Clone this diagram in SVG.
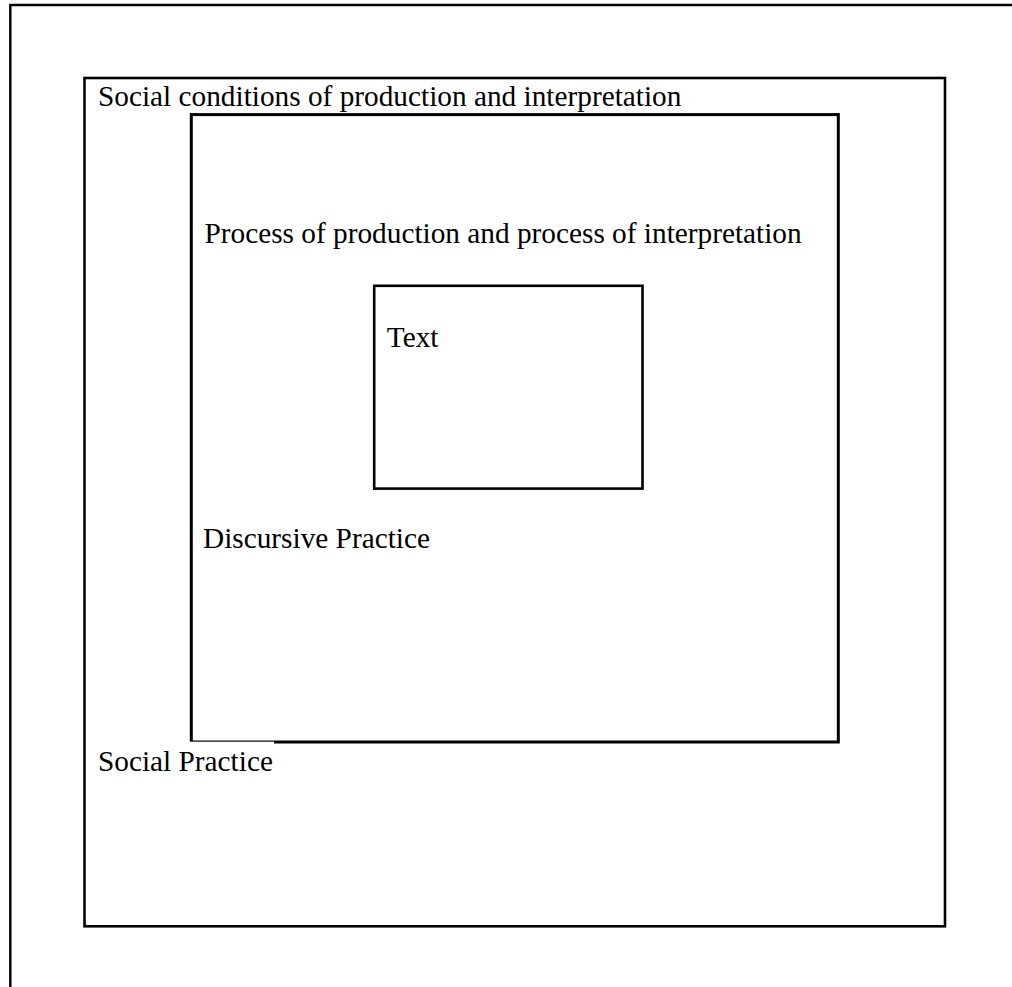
<svg xmlns="http://www.w3.org/2000/svg" width="1012" height="987" viewBox="0 0 1012 987">
  <style>
    .box { fill: none; stroke: #000; stroke-width: 2.6; }
    .frame { fill: none; stroke: #000; stroke-width: 2.4; }
    .lbl { font-family: "Liberation Serif", "Times New Roman", serif; font-size: 29.3px; fill: #000; }
  </style>
  <rect x="0" y="0" width="1012" height="987" fill="#fff"/>
  <g id="page-frame">
    <path class="frame" d="M10.3,987 L10.3,5 L1012,5"/>
  </g>
  <g id="social-practice">
    <rect class="box" x="84.5" y="78" width="860.5" height="848.3"/>
    <text class="lbl" x="98" y="106">Social conditions of production and interpretation</text>
  </g>
  <g id="discursive-practice">
    <rect class="box" x="191.3" y="114.6" width="647" height="627.4" style="stroke-width:3"/>
    <text class="lbl" x="204.5" y="243">Process of production and process of interpretation</text>
    <text class="lbl" x="203" y="548">Discursive Practice</text>
  </g>
  <g id="social-practice-label">
    <rect x="88" y="741.7" width="186" height="40" fill="#fff"/>
    <text class="lbl" x="98" y="770.5">Social Practice</text>
  </g>
  <g id="text-node">
    <rect class="box" x="374.2" y="285.8" width="268.3" height="202.8"/>
    <text class="lbl" x="386.8" y="347">Text</text>
  </g>
  <g id="connectors"/>
</svg>
